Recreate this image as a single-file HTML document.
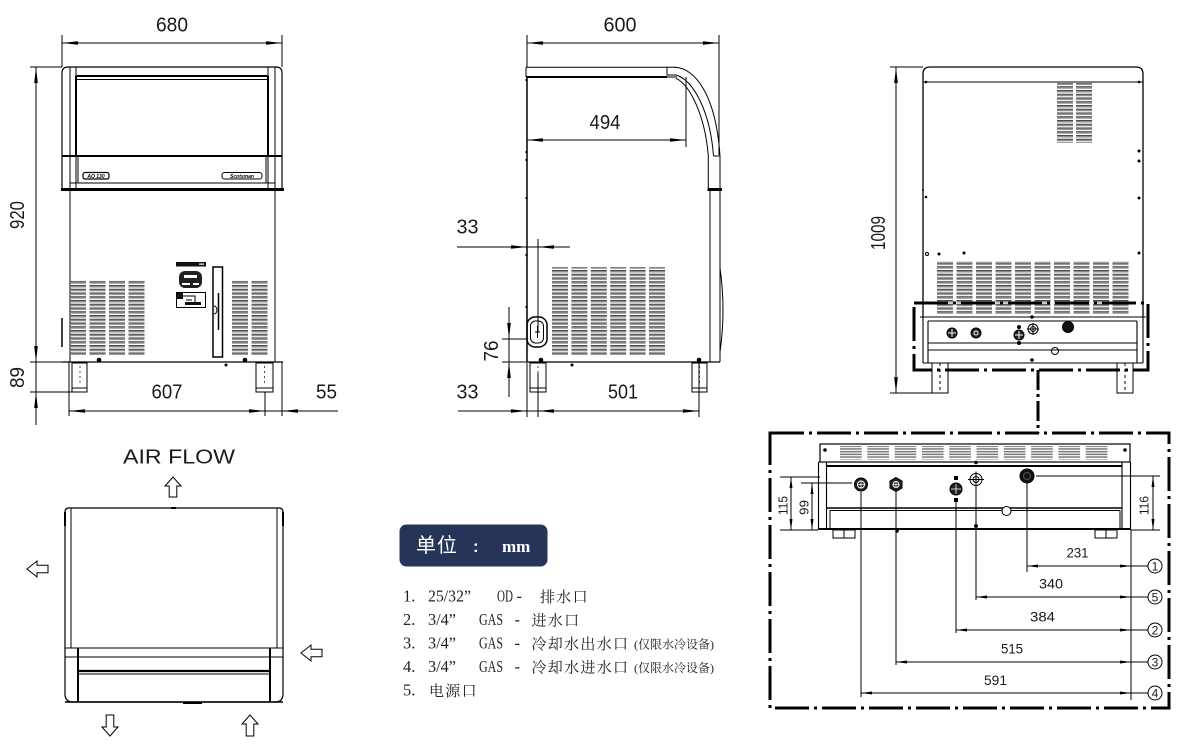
<!DOCTYPE html>
<html><head><meta charset="utf-8"><style>
html,body{margin:0;padding:0;background:#fff;}
svg{display:block}
text{stroke:none}
.d{font-family:"Liberation Sans",sans-serif;font-size:20px;fill:#1a1a1a}
.s{font-family:"Liberation Sans",sans-serif;font-size:14px;fill:#1a1a1a}
.lg{font-family:"Liberation Serif","Noto Serif CJK SC",serif;font-size:16.5px;fill:#222}
.cj{font-family:"Noto Serif CJK SC","Noto Sans CJK SC",serif;font-size:15px;letter-spacing:1.3px;fill:#222}
.cs{font-family:"Liberation Serif","Noto Serif CJK SC",serif;font-size:12px;fill:#222}
</style></head><body>
<svg width="1184" height="744" viewBox="0 0 1184 744" xmlns="http://www.w3.org/2000/svg">
<defs>
<marker id="ar" viewBox="-16 -2 16 4" refX="0" refY="0" markerWidth="16" markerHeight="4" markerUnits="userSpaceOnUse" orient="auto-start-reverse"><path d="M0,0 L-16,-1.8 L-16,1.8 Z" fill="#000"/></marker>
<marker id="as" viewBox="-11 -2 11 4" refX="0" refY="0" markerWidth="11" markerHeight="4" markerUnits="userSpaceOnUse" orient="auto-start-reverse"><path d="M0,0 L-11,-1.5 L-11,1.5 Z" fill="#000"/></marker>
<pattern id="v" width="20" height="3.75" patternUnits="userSpaceOnUse"><rect width="20" height="2.5" fill="#8c8c8c"/><rect width="20" height="0.8" fill="#3a3a3a"/></pattern>
<pattern id="v2" width="30" height="2.7" patternUnits="userSpaceOnUse"><rect width="30" height="1.5" fill="#7a7a7a"/></pattern>
</defs>

<!-- ================= FRONT VIEW ================= -->
<g stroke="#000" fill="none" stroke-width="1">
<path d="M62,35V67M282,35V67"/>
<line x1="62" y1="43" x2="282" y2="43" marker-start="url(#ar)" marker-end="url(#ar)"/>
<path d="M62,190V73Q62,67 68,67H276Q282,67 282,73V190" stroke-width="1.2"/>
<path d="M70,67V362M76,67V190M268,67V190M275,67V362"/>
<path d="M76,76H268" stroke-width="2"/>
<path d="M76,79.5H268"/>
<path d="M76,76V156M268,76V156" stroke-width="2"/>
<path d="M62,156H282" stroke-width="2"/>
<path d="M78,156V183M266,156V183M70,183H275"/>
<path d="M61,189.5H284" stroke-width="3"/>
<path d="M62,362H283" stroke-width="1.2"/>
<path d="M62,318V347" stroke-width="1.5"/>
<rect x="83" y="172.5" width="26" height="6.5" rx="2" stroke-width="1.2"/>
<rect x="222" y="172.5" width="40" height="6.5" rx="2.5"/>
<g stroke="none" fill="url(#v)">
<rect x="70" y="280" width="16" height="75"/><rect x="89.5" y="280" width="16" height="75"/>
<rect x="109" y="280" width="16" height="75"/><rect x="128.5" y="280" width="16" height="75"/>
<rect x="232" y="280" width="16" height="75"/><rect x="251.5" y="280" width="16" height="75"/>
</g>
<rect x="176" y="262" width="30" height="4.5" fill="#111" stroke="none"/>
<rect x="199" y="263.5" width="5" height="1.2" fill="#fff" stroke="none"/>
<rect x="179" y="271" width="23" height="17" rx="6" fill="#222" stroke="none"/>
<rect x="184" y="275" width="13" height="3" fill="#fff" stroke="none"/>
<rect x="182" y="283" width="8" height="2" fill="#fff" stroke="none"/>
<rect x="193" y="283" width="6" height="2" fill="#fff" stroke="none"/>
<rect x="176.5" y="292.5" width="29" height="15"/>
<rect x="177" y="293" width="6" height="6" fill="#111" stroke="none"/>
<path d="M183,296H195V303M186,300H192"/>
<rect x="185" y="302" width="16" height="3" fill="#111" stroke="none"/>
<rect x="213" y="267" width="9.5" height="90" stroke-width="1.5"/>
<path d="M218.5,293V330" stroke-width="1.5"/>
<path d="M214,306A3,4 0 0 1 214,314"/>
<rect x="72" y="363" width="15" height="29"/>
<rect x="256" y="363" width="17" height="29"/>
<path d="M72,388H87M256,388H273"/>
<path d="M80,366V386M264.5,366V386" stroke-dasharray="2 3" stroke-width="0.7"/>
<circle cx="99" cy="360" r="1.8" fill="#000"/>
<circle cx="245" cy="360" r="1.8" fill="#000"/>
<circle cx="226" cy="365" r="1" fill="#000"/>
<path d="M30,67H62M30,362H69M30,392H72"/>
<line x1="36" y1="67" x2="36" y2="362" marker-start="url(#ar)" marker-end="url(#ar)"/>
<path d="M36,362V392"/>
<line x1="36" y1="392" x2="36" y2="425" marker-start="url(#ar)"/>
<path d="M69,362V416M265,392V416M282,362V416"/>
<line x1="69" y1="411" x2="265" y2="411" marker-start="url(#ar)" marker-end="url(#ar)"/>
<path d="M265,411H282"/>
<line x1="282" y1="411" x2="338" y2="411" marker-start="url(#ar)"/>
</g>
<text x="96" y="178" font-size="5" font-weight="bold" font-style="italic" text-anchor="middle" font-family="Liberation Sans" fill="#000">AO 130</text>
<text x="242" y="178" font-size="5" font-weight="bold" font-style="italic" text-anchor="middle" font-family="Liberation Sans" fill="#000">Scotsman</text>
<text class="d" x="172" y="31.5" text-anchor="middle" textLength="32" lengthAdjust="spacingAndGlyphs">680</text>
<text class="d" transform="translate(24,215) rotate(-90)" text-anchor="middle" textLength="28" lengthAdjust="spacingAndGlyphs">920</text>
<text class="d" transform="translate(24,377.5) rotate(-90)" text-anchor="middle" textLength="21" lengthAdjust="spacingAndGlyphs">89</text>
<text class="d" x="167" y="398.5" text-anchor="middle" textLength="31" lengthAdjust="spacingAndGlyphs">607</text>
<text class="d" x="326.5" y="398.5" text-anchor="middle" textLength="21" lengthAdjust="spacingAndGlyphs">55</text>

<!-- ================= SIDE VIEW ================= -->
<g stroke="#000" fill="none" stroke-width="1">
<path d="M527,35V67M719,35V155"/>
<line x1="527" y1="43" x2="719" y2="43" marker-start="url(#ar)" marker-end="url(#ar)"/>
<path d="M526,67.3H676"/>
<path d="M526,77H667" stroke-width="2"/>
<path d="M667,67.3V75H676M667,77H677"/>
<path d="M526,67.3V77"/>
<path d="M675,67.3C695,68 716,95 720,156"/>
<path d="M676,75C693,80 710,110 713.5,156"/>
<path d="M676,78.3C690,85 705,115 708.3,156"/>
<path d="M708.3,156V190M720,156V190M713.5,156H720"/>
<path d="M707.5,189.5H722" stroke-width="3"/>
<path d="M710,190V362M720,190V362"/>
<path d="M527,77V362" stroke-width="1.5"/>
<path d="M527,362H720" stroke-width="1.2"/>
<path d="M720,268Q726,310 720,352"/>
<path d="M686,77V147"/>
<line x1="527" y1="140" x2="686" y2="140" marker-start="url(#ar)" marker-end="url(#ar)"/>
<g stroke="none" fill="url(#v)">
<rect x="552" y="267" width="16" height="88"/><rect x="571.4" y="267" width="16" height="88"/>
<rect x="590.8" y="267" width="16" height="88"/><rect x="610.2" y="267" width="16" height="88"/>
<rect x="629.6" y="267" width="16" height="88"/><rect x="649" y="267" width="16" height="88"/>
</g>
<rect x="527" y="317" width="20" height="30" rx="8" stroke-width="1.5"/>
<rect x="530.5" y="321" width="13" height="22" rx="5"/>
<path d="M537.5,326V338M535,332H540"/>
<path d="M538,239V332"/>
<line x1="457" y1="247" x2="527" y2="247" marker-end="url(#ar)"/>
<path d="M527,247H538"/>
<line x1="538" y1="247" x2="570" y2="247" marker-start="url(#ar)"/>
<path d="M502,339H527M502,362H527"/>
<line x1="509" y1="307" x2="509" y2="339" marker-end="url(#ar)"/>
<path d="M509,339V362"/>
<line x1="509" y1="362" x2="509" y2="397" marker-start="url(#ar)"/>
<path d="M527,363V417M538,373V417M699,360V417"/>
<line x1="458" y1="411" x2="527" y2="411" marker-end="url(#ar)"/>
<path d="M527,411H538"/>
<line x1="538" y1="411" x2="699" y2="411" marker-start="url(#ar)" marker-end="url(#ar)"/>
<rect x="530" y="363" width="16" height="29"/>
<rect x="692" y="363" width="15" height="29"/>
<path d="M530,388H546M692,388H707"/>
<path d="M538,366V386M699.5,366V386" stroke-dasharray="2 3" stroke-width="0.7"/>
<circle cx="541" cy="360" r="1.8" fill="#000"/>
<circle cx="699" cy="360" r="1.8" fill="#000"/>
<circle cx="572" cy="365" r="1" fill="#000"/>
<g fill="#000" stroke="none">
<circle cx="526.5" cy="80" r="1.2"/><circle cx="526.5" cy="152" r="1.2"/><circle cx="526.5" cy="160" r="1.2"/>
<circle cx="526.5" cy="198" r="1.2"/><circle cx="526.5" cy="255" r="1.2"/><circle cx="526.5" cy="307" r="1.2"/>
</g>
</g>
<text class="d" x="620" y="31.5" text-anchor="middle" textLength="33" lengthAdjust="spacingAndGlyphs">600</text>
<text class="d" x="605" y="129" text-anchor="middle" textLength="31" lengthAdjust="spacingAndGlyphs">494</text>
<text class="d" x="467.5" y="233.5" text-anchor="middle" textLength="22" lengthAdjust="spacingAndGlyphs">33</text>
<text class="d" transform="translate(498,351) rotate(-90)" text-anchor="middle" textLength="21" lengthAdjust="spacingAndGlyphs">76</text>
<text class="d" x="467.5" y="398.5" text-anchor="middle" textLength="22" lengthAdjust="spacingAndGlyphs">33</text>
<text class="d" x="623" y="398.5" text-anchor="middle" textLength="30" lengthAdjust="spacingAndGlyphs">501</text>

<!-- ================= BACK VIEW ================= -->
<g stroke="#000" fill="none" stroke-width="1">
<path d="M890,67H923M890,393H932"/>
<line x1="896" y1="67" x2="896" y2="393" marker-start="url(#ar)" marker-end="url(#ar)"/>
<path d="M923,317V74Q923,67 930,67H1136Q1143,67 1143,74V317" stroke-width="1.3"/>
<path d="M923,82H1143"/>
<g stroke="none" fill="url(#v)">
<rect x="1057" y="83" width="16" height="60"/><rect x="1076" y="83" width="16" height="60"/>
<rect x="937" y="261" width="16" height="54"/><rect x="956.5" y="261" width="16" height="54"/>
<rect x="976" y="261" width="16" height="54"/><rect x="995.5" y="261" width="16" height="54"/>
<rect x="1015" y="261" width="16" height="54"/><rect x="1034.5" y="261" width="16" height="54"/>
<rect x="1054" y="261" width="16" height="54"/><rect x="1073.5" y="261" width="16" height="54"/>
<rect x="1093" y="261" width="16" height="54"/><rect x="1112.5" y="261" width="16" height="54"/>
</g>
<g fill="#000" stroke="none">
<circle cx="926" cy="82" r="1.3"/><circle cx="1139" cy="82" r="1.3"/>
<circle cx="1139" cy="151" r="1.5"/><circle cx="1139" cy="161" r="1.5"/><circle cx="1139" cy="198" r="1.5"/>
<circle cx="1139" cy="253" r="1.5"/><circle cx="926" cy="197" r="1.3"/><circle cx="923" cy="190" r="1"/>
<circle cx="939" cy="254" r="1.5"/><circle cx="964" cy="253" r="1.5"/>
</g>
<circle cx="927" cy="254" r="1.5"/>
<path d="M920,317H1146M928,321H1137M923,317V363M928,321V363M1137,321V363M1143,317V363M928,343H1137M928,350H1137M923,363H1143" stroke-width="1.1"/>
<rect x="932" y="363" width="16" height="30"/>
<rect x="1117" y="363" width="16" height="30"/>
<path d="M940,363V393M1125,363V393" stroke-dasharray="3 3"/>
<circle cx="952" cy="333" r="5" fill="#222"/><path d="M948,333H956M952,329V337" stroke="#fff"/>
<circle cx="976" cy="333" r="5" fill="#222"/><circle cx="976" cy="333" r="2" stroke="#fff"/>
<circle cx="1019" cy="335" r="5" fill="#222"/><path d="M1015,335H1023M1019,331V339" stroke="#fff"/>
<circle cx="1019" cy="327" r="1.5" fill="#000"/><circle cx="1019" cy="343" r="1.5" fill="#000"/>
<circle cx="1033" cy="329" r="5"/><circle cx="1033" cy="329" r="2.5"/><path d="M1027,329H1039M1033,323V335"/>
<circle cx="1068" cy="327" r="5.5" fill="#111"/>
<circle cx="1055" cy="351" r="3.5"/>
<circle cx="1032" cy="317" r="1.3" fill="#000"/><circle cx="1032" cy="360" r="1.3" fill="#000"/>
<path d="M914,303H1148V370H914Z" stroke-width="3" stroke-dasharray="34 5 3 5"/>
<path d="M1038,370V433" stroke-width="3" stroke-dasharray="20 4 3 4"/>
</g>
<text class="d" transform="translate(885,233) rotate(-90)" text-anchor="middle" textLength="34" lengthAdjust="spacingAndGlyphs">1009</text>

<!-- ================= DETAIL VIEW ================= -->
<g stroke="#000" fill="none" stroke-width="1">
<rect x="770" y="433" width="399" height="275" stroke-width="3" stroke-dasharray="34 5 3 5"/>
<rect x="820" y="444" width="310" height="18" stroke-width="1.2"/>
<g stroke="none" fill="url(#v2)">
<rect x="840" y="446" width="21.7" height="13.5"/><rect x="867.3" y="446" width="21.7" height="13.5"/>
<rect x="894.6" y="446" width="21.7" height="13.5"/><rect x="921.9" y="446" width="21.7" height="13.5"/>
<rect x="949.2" y="446" width="21.7" height="13.5"/><rect x="976.5" y="446" width="21.7" height="13.5"/>
<rect x="1003.8" y="446" width="21.7" height="13.5"/><rect x="1031.1" y="446" width="21.7" height="13.5"/>
<rect x="1058.4" y="446" width="21.7" height="13.5"/><rect x="1085.7" y="446" width="21.7" height="13.5"/>
</g>
<circle cx="825" cy="450" r="1.3" fill="#000"/><circle cx="1125" cy="450" r="1.3" fill="#000"/>
<path d="M818.5,462V530M826.5,462V530M1122,462V530M1130.5,462V530" stroke-width="1.1"/>
<path d="M818.5,462H1130.5"/>
<path d="M826.5,466H1122" stroke-width="2"/>
<path d="M826.5,508H1122" stroke-width="1.5"/>
<path d="M830,510.5H1120M830,510.5V528M1120,510.5V528"/>
<path d="M818.5,529H1131" stroke-width="2"/>
<rect x="833" y="530" width="22" height="8"/><path d="M844,530V538"/>
<rect x="1095" y="530" width="22" height="8"/><path d="M1106,530V538"/>
<circle cx="976" cy="462.5" r="1.3" fill="#000"/><circle cx="976" cy="526" r="1.5" fill="#000"/>
<circle cx="897" cy="531" r="1.3" fill="#000"/>
<circle cx="861" cy="484.5" r="6.5" fill="#222"/><circle cx="861" cy="484.5" r="3.5" stroke="#fff"/><path d="M857,484.5H865M861,480.5V488.5" stroke="#fff" stroke-width="0.8"/>
<path d="M896,477.5L902,481V488L896,491.5L890,488V481Z" fill="#222"/><circle cx="896" cy="484.5" r="3" stroke="#fff"/><path d="M893,484.5H899M896,481.5V487.5" stroke="#fff" stroke-width="0.7"/>
<circle cx="956" cy="489" r="6" fill="#222"/><path d="M951,489H961M956,484V494" stroke="#fff" stroke-width="0.8"/>
<rect x="954" y="476" width="4" height="4" fill="#000" stroke="none"/><rect x="954" y="498" width="4" height="4" fill="#000" stroke="none"/>
<circle cx="976" cy="479.5" r="6"/><circle cx="976" cy="479.5" r="3"/><path d="M968,479.5H984M976,471.5V487.5"/>
<circle cx="1027" cy="476" r="7" fill="#111"/><circle cx="1027" cy="476" r="3.5" stroke="#555"/>
<circle cx="1006.5" cy="511" r="4.5" fill="#fff"/>
<path d="M780,477H820M801,483H852M780,530H818"/>
<line x1="791" y1="477" x2="791" y2="530" marker-start="url(#as)" marker-end="url(#as)"/>
<line x1="812" y1="483" x2="812" y2="530" marker-start="url(#as)" marker-end="url(#as)"/>
<path d="M1036,476H1160M1131,530H1160"/>
<line x1="1153" y1="476" x2="1153" y2="530" marker-start="url(#as)" marker-end="url(#as)"/>
<path d="M861,492V697M896,491V665M956,502V633M976,486V600M1027,483V572M1131,530V700"/>
<line x1="1027" y1="566" x2="1131" y2="566" marker-start="url(#as)" marker-end="url(#as)"/>
<line x1="976" y1="597" x2="1131" y2="597" marker-start="url(#as)" marker-end="url(#as)"/>
<line x1="956" y1="630" x2="1131" y2="630" marker-start="url(#as)" marker-end="url(#as)"/>
<line x1="896" y1="662" x2="1131" y2="662" marker-start="url(#as)" marker-end="url(#as)"/>
<line x1="861" y1="693" x2="1131" y2="693" marker-start="url(#as)" marker-end="url(#as)"/>
<path d="M1131,566H1148M1131,597H1148M1131,630H1148M1131,662H1148M1131,693H1148"/>
<circle cx="1155" cy="566" r="7"/><circle cx="1155" cy="597" r="7"/><circle cx="1155" cy="630" r="7"/>
<circle cx="1155" cy="662" r="7"/><circle cx="1155" cy="693" r="7"/>
</g>
<g class="s" font-size="13">
<text x="1077.5" y="557.5" text-anchor="middle" font-size="14" textLength="22" lengthAdjust="spacingAndGlyphs">231</text>
<text x="1051" y="588.5" text-anchor="middle" font-size="14" textLength="24" lengthAdjust="spacingAndGlyphs">340</text>
<text x="1042.5" y="621.5" text-anchor="middle" font-size="14" textLength="25" lengthAdjust="spacingAndGlyphs">384</text>
<text x="1012" y="653.5" text-anchor="middle" font-size="14" textLength="22" lengthAdjust="spacingAndGlyphs">515</text>
<text x="995.5" y="685" text-anchor="middle" font-size="14" textLength="23" lengthAdjust="spacingAndGlyphs">591</text>
<text transform="translate(787.5,505.5) rotate(-90)" text-anchor="middle" font-size="13" textLength="19" lengthAdjust="spacingAndGlyphs">115</text>
<text transform="translate(808.5,507.5) rotate(-90)" text-anchor="middle" font-size="13" textLength="15" lengthAdjust="spacingAndGlyphs">99</text>
<text transform="translate(1148.5,505.5) rotate(-90)" text-anchor="middle" font-size="13" textLength="19" lengthAdjust="spacingAndGlyphs">116</text>
<text x="1155" y="570.5" text-anchor="middle" font-size="12">1</text>
<text x="1155" y="601.5" text-anchor="middle" font-size="12">5</text>
<text x="1155" y="634.5" text-anchor="middle" font-size="12">2</text>
<text x="1155" y="666.5" text-anchor="middle" font-size="12">3</text>
<text x="1155" y="697.5" text-anchor="middle" font-size="12">4</text>
</g>

<!-- ================= TOP VIEW / AIR FLOW ================= -->
<text class="d" x="179" y="463.5" text-anchor="middle" font-size="19" textLength="112" lengthAdjust="spacingAndGlyphs">AIR FLOW</text>
<g stroke="#000" fill="none" stroke-width="1">
<path d="M65,512Q65,508 69,508H279Q283,508 283,512V694Q283,702 275,702H73Q65,702 65,694Z" stroke-width="1.2"/>
<path d="M71,508V648M277,508V648"/>
<path d="M65,648H283M65,657H283"/>
<path d="M78,671H270" stroke-width="2.2"/>
<path d="M78,674H270"/>
<path d="M78,648V702M270,648V702" stroke-width="2"/>
<path d="M65,702H283" stroke-width="1.5"/>
<path d="M65,512V526M283,512V526" stroke-width="2"/>
<path d="M183,703H202" stroke-width="2"/>
<path d="M171,508H176" stroke-width="2"/>
<path d="M173,477L181,486H176.8V497H169.2V486H165Z"/>
<path d="M250,715L258,724H253.8V736H246.2V724H242Z"/>
<path d="M110,736L118,727H113.8V715H106.2V727H102Z"/>
<path d="M27,569L37,561V565.2H48V572.8H37V577Z"/>
<path d="M301,653L311,645V649.2H322V656.8H311V661Z"/>
</g>

<!-- ================= LEGEND ================= -->
<rect x="399.5" y="524.5" width="148" height="42" rx="7" fill="#26345a"/>
<text x="416" y="552" font-family="'Noto Sans CJK SC',sans-serif" font-size="20" fill="#fff" letter-spacing="1">单位</text>
<text x="473" y="552" font-family="'Liberation Sans',sans-serif" font-size="17" fill="#fff" font-weight="bold">:</text>
<text x="502" y="552" font-family="'Liberation Serif',serif" font-size="17" fill="#fff" font-weight="bold">mm</text>

<text class="lg" y="601.5"><tspan x="403">1.</tspan><tspan x="428" textLength="43" lengthAdjust="spacingAndGlyphs">25/32”</tspan><tspan x="497" textLength="16" lengthAdjust="spacingAndGlyphs">OD</tspan><tspan x="516.5">-</tspan></text>
<text class="cj" x="540" y="602">排水口</text>

<text class="lg" y="625"><tspan x="403">2.</tspan><tspan x="428" textLength="28" lengthAdjust="spacingAndGlyphs">3/4”</tspan><tspan x="479" textLength="24" lengthAdjust="spacingAndGlyphs">GAS</tspan><tspan x="514.5">-</tspan></text>
<text class="cj" x="531.5" y="625.5">进水口</text>

<text class="lg" y="648.5"><tspan x="403">3.</tspan><tspan x="428" textLength="28" lengthAdjust="spacingAndGlyphs">3/4”</tspan><tspan x="479" textLength="24" lengthAdjust="spacingAndGlyphs">GAS</tspan><tspan x="514.5">-</tspan></text>
<text class="cj" x="531.5" y="649">冷却水出水口</text>
<text class="cs" x="634" y="648.5">(仅限水冷设备)</text>

<text class="lg" y="672"><tspan x="403">4.</tspan><tspan x="428" textLength="28" lengthAdjust="spacingAndGlyphs">3/4”</tspan><tspan x="479" textLength="24" lengthAdjust="spacingAndGlyphs">GAS</tspan><tspan x="514.5">-</tspan></text>
<text class="cj" x="531.5" y="672.5">冷却水进水口</text>
<text class="cs" x="634" y="672">(仅限水冷设备)</text>

<text class="lg" y="695.5"><tspan x="403">5.</tspan></text>
<text class="cj" x="429" y="696">电源口</text>
</svg>
</body></html>
